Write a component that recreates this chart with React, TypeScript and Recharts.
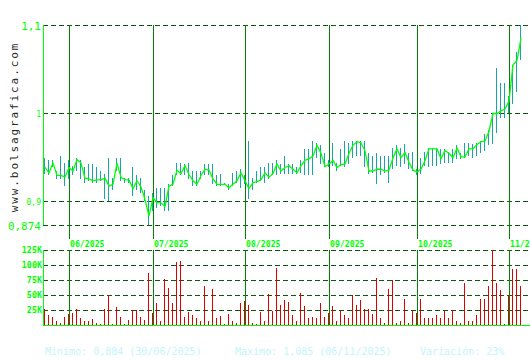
import { ComposedChart, Bar, Line, XAxis, YAxis, CartesianGrid, ReferenceLine } from "recharts";

// one entry per trading day, 23/05/2025 .. 06/11/2025
const closes = [
  0.939, 0.933, 0.944, 0.93, 0.93, 0.928, 0.939, 0.935, 0.948, 0.944,
  0.927, 0.926, 0.924, 0.925, 0.925, 0.927, 0.918, 0.92, 0.944, 0.928,
  0.925, 0.925, 0.915, 0.924, 0.917, 0.903, 0.884, 0.905, 0.899, 0.899,
  0.895, 0.918, 0.92, 0.936, 0.932, 0.941, 0.931, 0.924, 0.92, 0.93,
  0.937, 0.936, 0.926, 0.92, 0.92, 0.92, 0.916, 0.92, 0.924, 0.933,
  0.924, 0.915, 0.922, 0.923, 0.925, 0.933, 0.928, 0.932, 0.943, 0.935,
  0.939, 0.941, 0.937, 0.933, 0.941, 0.947, 0.949, 0.952, 0.964, 0.955,
  0.94, 0.943, 0.947, 0.939, 0.942, 0.943, 0.955, 0.964, 0.968, 0.967,
  0.958, 0.935, 0.935, 0.937, 0.937, 0.935, 0.936, 0.95, 0.96, 0.95,
  0.956, 0.945, 0.936, 0.934, 0.937, 0.947, 0.96, 0.96, 0.96, 0.949,
  0.958, 0.955, 0.95, 0.961, 0.951, 0.951, 0.96, 0.96, 0.965, 0.968,
  0.969, 0.98, 1.0, 1.0, 1.003, 1.005, 1.014, 1.055, 1.06, 1.085,
];

const highs = [
  0.95, 0.947, 0.947, 0.935, 0.952, 0.944, 0.947, 0.941, 0.95, 0.947,
  0.939, 0.943, 0.943, 0.939, 0.935, 0.932, 0.95, 0.927, 0.95, 0.95,
  0.927, 0.927, 0.939, 0.93, 0.927, 0.913, 0.907, 0.91, 0.916, 0.916,
  0.916, 0.92, 0.93, 0.944, 0.944, 0.943, 0.944, 0.935, 0.935, 0.935,
  0.943, 0.943, 0.943, 0.93, 0.932, 0.921, 0.92, 0.933, 0.935, 0.937,
  0.93, 0.969, 0.927, 0.935, 0.939, 0.939, 0.944, 0.944, 0.947, 0.943,
  0.952, 0.943, 0.943, 0.939, 0.947, 0.96, 0.96, 0.969, 0.967, 0.964,
  0.955, 0.947, 0.967, 0.944, 0.96, 0.969, 0.967, 0.969, 0.969, 0.969,
  0.969, 0.955, 0.952, 0.955, 0.952, 0.952, 0.952, 0.961, 0.964, 0.961,
  0.966, 0.955, 0.956, 0.937, 0.95, 0.956, 0.961, 0.961, 0.961, 0.96,
  0.96, 0.956, 0.96, 0.964, 0.955, 0.967, 0.967, 0.966, 0.967, 0.969,
  0.977, 0.981, 1.0, 1.051, 1.035, 1.035, 1.02, 1.055, 1.069, 1.1,
];

const lows = [
  0.932, 0.93, 0.939, 0.926, 0.926, 0.918, 0.926, 0.93, 0.935, 0.926,
  0.922, 0.924, 0.922, 0.922, 0.924, 0.903, 0.901, 0.913, 0.935, 0.924,
  0.922, 0.922, 0.907, 0.913, 0.91, 0.901, 0.874, 0.89, 0.893, 0.895,
  0.89, 0.89, 0.918, 0.93, 0.93, 0.93, 0.926, 0.918, 0.918, 0.926,
  0.93, 0.93, 0.92, 0.918, 0.918, 0.919, 0.914, 0.918, 0.922, 0.916,
  0.92, 0.903, 0.913, 0.922, 0.924, 0.922, 0.926, 0.93, 0.93, 0.932,
  0.932, 0.932, 0.932, 0.932, 0.933, 0.93, 0.93, 0.93, 0.95, 0.943,
  0.939, 0.94, 0.941, 0.935, 0.941, 0.939, 0.943, 0.95, 0.952, 0.952,
  0.939, 0.932, 0.933, 0.92, 0.93, 0.933, 0.922, 0.937, 0.941, 0.939,
  0.943, 0.937, 0.935, 0.93, 0.932, 0.941, 0.939, 0.941, 0.941, 0.943,
  0.944, 0.944, 0.944, 0.949, 0.949, 0.95, 0.952, 0.95, 0.952, 0.955,
  0.958, 0.964, 0.966, 0.978, 0.995, 0.995, 1.0, 1.011, 1.024, 1.06,
];

// volume in thousands
const volumes = [
  27, 16, 14, 6, 4, 14, 18, 20, 27, 12,
  7.5, 6, 10, 4, 1, 27, 50, 2, 30, 14,
  2, 9, 25, 25, 14, 9, 86, 20, 36, 6,
  76, 61, 36, 105, 106, 14, 21, 17, 12, 7.5,
  65, 6, 60, 11, 15, 1, 19, 6, 4, 36,
  40, 34, 4, 2, 21, 7.5, 51, 24, 95, 34,
  41, 38, 17, 7.5, 53, 31, 11, 14, 11, 36,
  14, 20, 31, 7.5, 24, 17, 11, 50, 33, 41,
  27, 26, 19, 78, 11, 4, 60, 75, 4, 6,
  44, 4, 23, 20, 43, 12, 11, 11, 16, 11,
  23, 12, 25, 7.5, 4, 70, 7.5, 7.5, 16, 43,
  43, 65, 125, 70, 58, 1, 50, 93, 93, 65,
];

const monthTicks = [6, 27, 50, 71, 93, 116];
const monthLabels = ["06/2025", "07/2025", "08/2025", "09/2025", "10/2025", "11/2025"];
const priceTicks = [0.874, 0.9, 1, 1.1];
const volumeTicks = [25, 50, 75, 100, 125];

const data = closes.map((c, i) => ({
  i,
  close: c,
  range: [lows[i], highs[i]],
  vol: volumes[i],
}));

const MONO = "DejaVu Sans Mono, monospace";
const GREEN = "#00ff00";
const GRID = "#0b5a0b";
const MONTH_LINE = "#078007";
const X_DOMAIN = [-0.5, 121.25];

function PriceTick({ x, y, payload }: any) {
  const v = payload.value as number;
  const big = v === priceTicks[0] || v === priceTicks[priceTicks.length - 1];
  return (
    <text x={x} y={y} dy={big ? 4.5 : 3.5} textAnchor="end" fill={GREEN} fontFamily={MONO} fontSize={big ? 11 : 8}>
      {String(v).replace(".", ",")}
    </text>
  );
}

function MonthTick({ x, y, payload }: any) {
  const label = monthLabels[monthTicks.indexOf(payload.value)];
  return (
    <text x={x + 1} y={y} dy={8} fill={GREEN} fontFamily={MONO} fontSize={8.2} fontWeight="bold">
      {label}
    </text>
  );
}

function VolumeTick({ x, y, payload }: any) {
  return (
    <text x={x} y={y} dy={3} textAnchor="end" fill={GREEN} fontFamily={MONO} fontSize={8.4} fontWeight="bold">
      {payload.value}K
    </text>
  );
}

export default function App() {
  return (
    <div style={{ position: "fixed", left: 0, top: 0, width: 530, height: 360, background: "#fff", overflow: "hidden" }}>
      <style>{".crisp line, .crisp path.recharts-rectangle, .crisp .recharts-cartesian-axis-line { shape-rendering: crispEdges; }"}</style>
      <div className="crisp" style={{ position: "absolute", left: 0, top: 240 }}>
        <ComposedChart width={530} height={90} data={data} margin={{ top: 10, right: 0, bottom: 4, left: 0 }}>
          <CartesianGrid vertical={false} stroke={GRID} strokeDasharray="5 3" />
          <XAxis
            dataKey="i"
            type="number"
            domain={X_DOMAIN}
            allowDataOverflow
            ticks={monthTicks}
            height={1}
            tick={false}
            tickLine={false}
            axisLine={{ stroke: GREEN }}
          />
          <YAxis
            type="number"
            domain={[0, 125]}
            allowDataOverflow
            ticks={volumeTicks}
            interval={0}
            width={43}
            tickSize={0}
            tickMargin={1}
            axisLine={{ stroke: GREEN }}
            tick={<VolumeTick />}
          />
          <Bar dataKey="vol" fill="#e00000" barSize={1} isAnimationActive={false} />
          {monthTicks.map((t) => (
            <ReferenceLine key={t} x={t} stroke={MONTH_LINE} />
          ))}
        </ComposedChart>
      </div>
      <div className="crisp" style={{ position: "absolute", left: 0, top: 0 }}>
        <ComposedChart width={530} height={250} data={data} margin={{ top: 25, right: 0, bottom: 5, left: 0 }}>
          <CartesianGrid vertical={false} stroke={GRID} strokeDasharray="5 3" />
          <XAxis
            dataKey="i"
            type="number"
            domain={X_DOMAIN}
            allowDataOverflow
            ticks={monthTicks}
            interval={0}
            height={20}
            axisLine={false}
            tickSize={14}
            tickMargin={0}
            tickLine={{ stroke: MONTH_LINE }}
            tick={<MonthTick />}
          />
          <YAxis
            type="number"
            domain={[0.874, 1.1]}
            allowDataOverflow
            ticks={priceTicks}
            interval={0}
            width={43}
            tickSize={0}
            tickMargin={2}
            axisLine={{ stroke: GREEN }}
            tick={<PriceTick />}
          />
          {monthTicks.map((t) => (
            <ReferenceLine key={t} x={t} stroke={MONTH_LINE} />
          ))}
          <Bar dataKey="range" fill="#1ba3ac" barSize={1} isAnimationActive={false} />
          <Line
            dataKey="close"
            type="linear"
            stroke={GREEN}
            strokeWidth={1.3}
            dot={false}
            isAnimationActive={false}
          />
        </ComposedChart>
      </div>
      <svg width={530} height={360} style={{ position: "absolute", left: 0, top: 0, pointerEvents: "none" }}>
        <text
          x={18}
          y={127}
          transform="rotate(-90 18 127)"
          textAnchor="middle"
          fill="#2a2a2a"
          fontFamily={MONO}
          fontSize={11}
          letterSpacing={1.9}
        >
          www.bolsagrafica.com
        </text>
        <g fill="#c4f4fb" fontFamily={MONO} fontSize={10}>
          <text x={45} y={355}>Minimo: 0,884 (30/06/2025)</text>
          <text x={235} y={355}>Maximo: 1,085 (06/11/2025)</text>
          <text x={420} y={355}>Variación: 23%</text>
        </g>
      </svg>
    </div>
  );
}
